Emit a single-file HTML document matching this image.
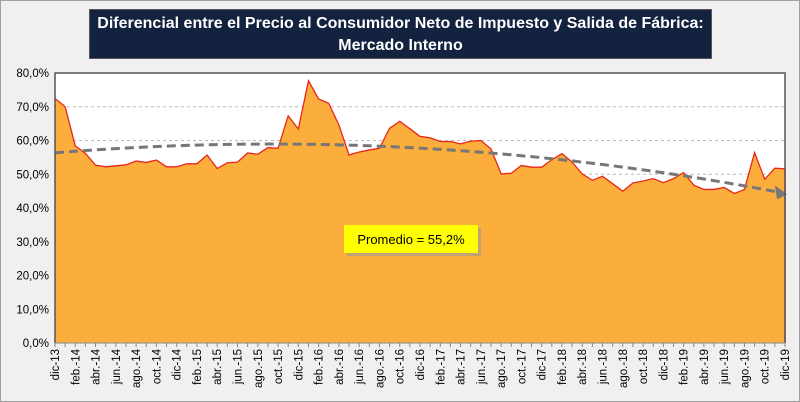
<!DOCTYPE html>
<html><head><meta charset="utf-8"><style>
body{margin:0;background:#fff}
#wrap{position:relative;width:800px;height:402px;background:#f0f0f0;box-sizing:border-box;border:1px solid #a0a0a0;overflow:hidden;font-family:"Liberation Sans",sans-serif}
#title{position:absolute;left:88px;top:8px;width:623px;height:50px;background:#13233f;color:#fff;font-weight:bold;font-size:16px;line-height:22px;text-align:center;padding-top:3px;box-sizing:border-box;border:1px solid #555}
</style></head><body>
<div id="wrap">
<div id="title">Diferencial entre el Precio al Consumidor Neto de Impuesto y Salida de Fábrica:<br>Mercado Interno</div>
<svg id="chart" width="800" height="402" style="position:absolute;left:-1px;top:-1px"></svg>
</div>
<script>
const months=["ene.","feb.","mar.","abr.","may.","jun.","jul.","ago.","sep.","oct.","nov.","dic"];
const categories=["dic-13"];
for(let y=14;y<=19;y++)for(const m of months)categories.push(m+"-"+y);
const values=[72.5,70.0,58.4,56.2,52.7,52.2,52.5,52.8,53.9,53.5,54.2,52.2,52.2,53.1,53.1,55.7,51.7,53.4,53.6,56.3,55.9,57.9,57.7,67.3,63.4,77.7,72.3,71.0,64.6,55.7,56.6,57.2,57.7,63.6,65.7,63.5,61.2,60.8,59.7,59.7,59.0,59.8,60.0,57.5,50.1,50.3,52.6,52.1,52.1,54.3,56.1,53.6,50.1,48.2,49.4,47.2,45.0,47.4,48.0,48.7,47.5,48.7,50.5,46.8,45.5,45.5,46.1,44.3,45.5,56.4,48.5,51.8,51.6];
const yTicks=[0,10,20,30,40,50,60,70,80];
const yTickLabels=["0,0%","10,0%","20,0%","30,0%","40,0%","50,0%","60,0%","70,0%","80,0%"];
const averageLabel="Promedio = 55,2%";
const NS="http://www.w3.org/2000/svg";
const svg=document.getElementById('chart');
const L=55,R=785,T=73,B=343;
const xs=i=>L+(R-L)*i/(categories.length-1);
const ys=v=>B-(B-T)*v/80;
function mk(t,a,p){const e=document.createElementNS(NS,t);for(const k in a)e.setAttribute(k,a[k]);(p||svg).appendChild(e);return e;}
const bg=mk('rect',{x:L,y:T,width:R-L,height:B-T,fill:'#fff'});


yTicks.forEach((t,i)=>{
  if(t>0&&t<80){const g=mk('line',{x1:L,x2:R,y1:ys(t),y2:ys(t),stroke:'#bbb','stroke-dasharray':'3,3'});
  
  }
  const tx=mk('text',{x:L-6,y:ys(t)+4,'text-anchor':'end','font-size':'11.5',fill:'#000'});
  tx.textContent=yTickLabels[i];
  
  
});
let d='M'+xs(0)+','+ys(0);
values.forEach((v,i)=>d+=' L'+xs(i)+','+ys(v));
d+=' L'+xs(values.length-1)+','+ys(0)+' Z';
const area=mk('path',{d:d,fill:'#fcae3c'});


let ld='';values.forEach((v,i)=>ld+=(i?' L':'M')+xs(i)+','+ys(v));
ld+=' L'+xs(values.length-1)+','+ys(0);
const line=mk('path',{d:ld,fill:'none',stroke:'#e8261c','stroke-width':1.3});


(function(){const n=values.length;let S=[0,0,0,0,0],Ty=[0,0,0];
for(let i=0;i<n;i++){let p=1;for(let k=0;k<5;k++){S[k]+=p;if(k<3)Ty[k]+=p*values[i];p*=i;}}
const A=[[S[0],S[1],S[2],Ty[0]],[S[1],S[2],S[3],Ty[1]],[S[2],S[3],S[4],Ty[2]]];
for(let c=0;c<3;c++){for(let r=c+1;r<3;r++){const f=A[r][c]/A[c][c];for(let k=c;k<4;k++)A[r][k]-=f*A[c][k];}}
const co=[0,0,0];for(let r=2;r>=0;r--){let s=A[r][3];for(let k=r+1;k<3;k++)s-=A[r][k]*co[k];co[r]=s/A[r][r];}
let td='';for(let i=0;i<n;i++){const v=co[0]+co[1]*i+co[2]*i*i;td+=(i?' L':'M')+xs(i)+','+ys(v);}
const tr=mk('path',{d:td,fill:'none',stroke:'#777','stroke-width':3,'stroke-dasharray':'9,5'});


const i=n-1,v=co[0]+co[1]*i+co[2]*i*i,x=xs(i),y=ys(v);
const ar=mk('polygon',{points:`${x+2},${y+1} ${x-10},${y-8} ${x-8},${y+6}`,fill:'#777'});

})();
const ax=mk('path',{d:`M${L},${B} L${L},${T} L${R},${T} L${R},${B}`,fill:'none',stroke:'#555','stroke-width':1.5});


const xa=mk('line',{x1:L,x2:R,y1:B,y2:B,stroke:'#888'});


categories.forEach((c,i)=>{
  const x=xs(i);
  const tk=mk('line',{x1:x,x2:x,y1:B,y2:B+4,stroke:'#888'});
  
  
  if(i%2===0){const t=mk('text',{x:0,y:0,transform:`translate(${x+4},${B+6}) rotate(-90)`,'text-anchor':'end','font-size':'11.5',fill:'#000'});
  t.textContent=c;
  
  }
});
const sh=mk('rect',{x:347,y:228,width:134,height:28,fill:'#999',opacity:0.6});


const cb=mk('rect',{x:344,y:225,width:134,height:28,fill:'#ffff00'});


const ct=mk('text',{x:411,y:244,'text-anchor':'middle','font-size':'13',fill:'#000'});
ct.textContent=averageLabel;


</script>
</body></html>
